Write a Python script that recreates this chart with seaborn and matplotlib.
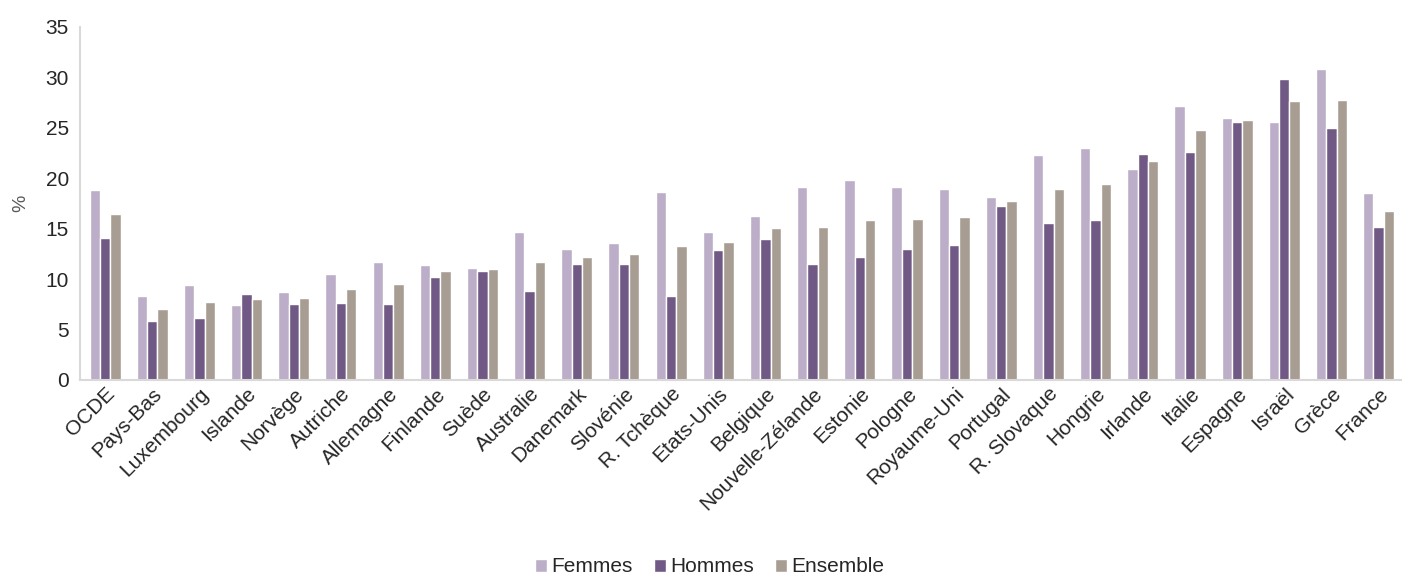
import matplotlib
matplotlib.use("Agg")
import matplotlib.pyplot as plt
import seaborn as sns
import pandas as pd

pays = ["OCDE", "Pays-Bas", "Luxembourg", "Islande", "Norvège", "Autriche",
        "Allemagne", "Finlande", "Suède", "Australie", "Danemark", "Slovénie",
        "R. Tchèque", "Etats-Unis", "Belgique", "Nouvelle-Zélande", "Estonie",
        "Pologne", "Royaume-Uni", "Portugal", "R. Slovaque", "Hongrie",
        "Irlande", "Italie", "Espagne", "Israël", "Grèce", "France"]

femmes = [18.8, 8.3, 9.4, 7.4, 8.7, 10.5, 11.7, 11.4, 11.1, 14.7, 13.0, 13.6,
          18.6, 14.7, 16.3, 19.1, 19.8, 19.1, 18.9, 18.1, 22.3, 23.0, 20.9,
          27.2, 26.0, 25.6, 30.8, 18.5]
hommes = [14.1, 5.8, 6.1, 8.5, 7.5, 7.6, 7.5, 10.2, 10.8, 8.8, 11.5, 11.5,
          8.3, 12.9, 14.0, 11.5, 12.2, 13.0, 13.4, 17.3, 15.6, 15.9, 22.4,
          22.6, 25.6, 29.8, 25.0, 15.2]
ensemble = [16.45, 7.0, 7.7, 8.0, 8.1, 9.0, 9.5, 10.8, 11.0, 11.7, 12.2, 12.5,
            13.3, 13.7, 15.1, 15.2, 15.9, 16.0, 16.2, 17.7, 18.9, 19.4, 21.7,
            24.8, 25.8, 27.7, 27.8, 16.8]

series = ["Femmes", "Hommes", "Ensemble"]
couleurs = ["#bca8cd", "#70528c", "#ab9d8f"]

df = pd.DataFrame({
    "pays": pays * 3,
    "valeur": femmes + hommes + ensemble,
    "serie": [s for s in series for _ in pays],
})

sns.set_style("white")
plt.rcParams["font.family"] = ["Liberation Sans", "DejaVu Sans"]

fig = plt.figure(figsize=(14.05, 5.74), dpi=100)
ax = fig.add_axes([0.057, 0.338, 0.94, 0.615])

sns.barplot(data=df, x="pays", y="valeur", hue="serie", palette=couleurs,
            hue_order=series, width=0.66, edgecolor="white", linewidth=1,
            ax=ax)

ax.set_ylim(0, 35)
ax.set_yticks(range(0, 36, 5))
ax.set_xlim(-0.53, 27.47)
ax.set_xlabel("")
ax.set_ylabel("%", fontsize=14, color="#595959", labelpad=12)
ax.tick_params(axis="y", labelsize=15, length=0, pad=8)
ax.tick_params(axis="x", labelsize=15, length=0, pad=3)
plt.setp(ax.get_xticklabels(), rotation=45, ha="right", rotation_mode="anchor")

for side in ["top", "right"]:
    ax.spines[side].set_visible(False)
for side in ["left", "bottom"]:
    ax.spines[side].set_color("#d9d9d9")
    ax.spines[side].set_linewidth(1.5)

# legende en bas, centree
ax.legend_.remove()
handles, labels = ax.get_legend_handles_labels()
fig.legend(handles, labels, loc="lower center", bbox_to_anchor=(0.505, -0.037),
           ncol=3, frameon=False, fontsize=15, handlelength=0.6,
           handleheight=0.6, handletextpad=0.2, columnspacing=1.0)

fig.savefig("out.png", dpi=100)
